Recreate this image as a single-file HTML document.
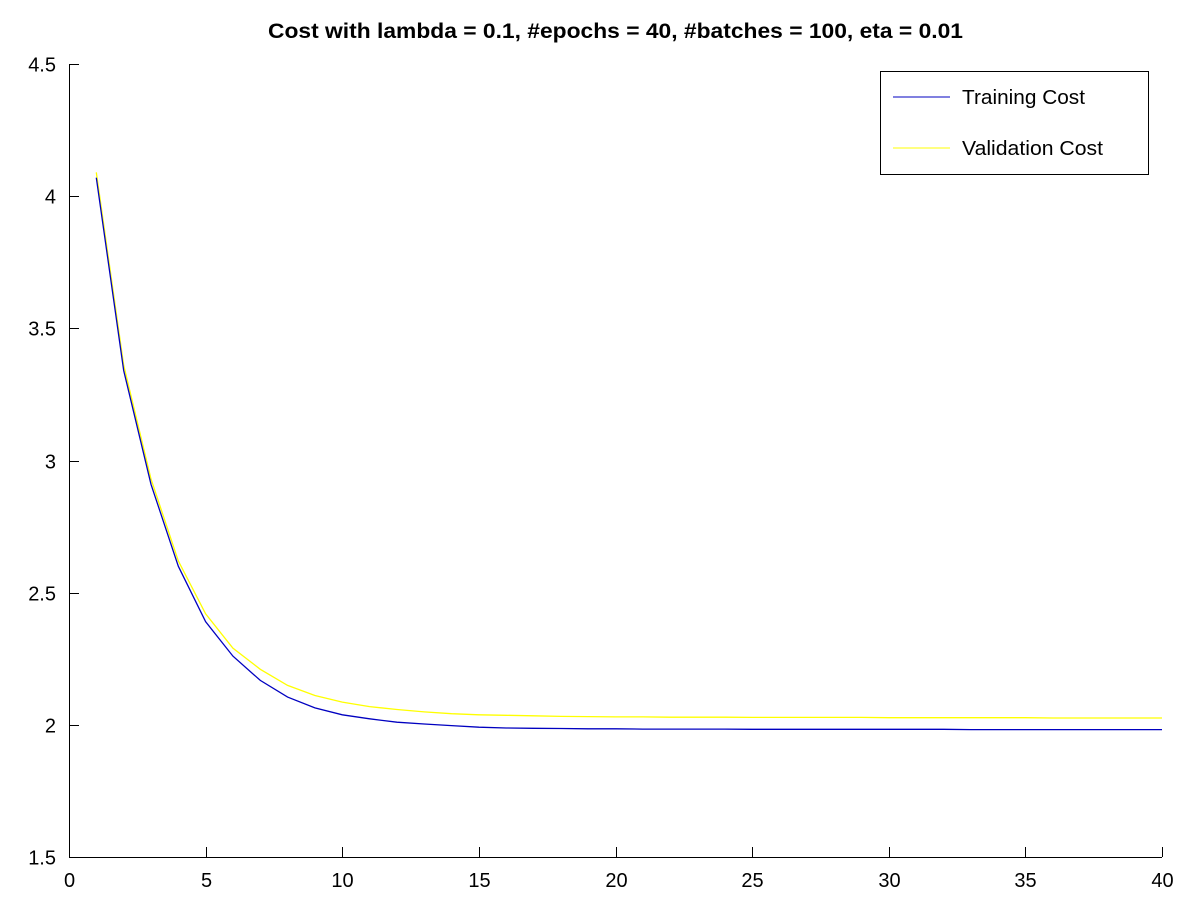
<!DOCTYPE html>
<html><head><meta charset="utf-8"><style>
body{margin:0;background:#fff}
svg text{font-family:"Liberation Sans",sans-serif}
</style></head><body>
<svg id="chart" width="1200" height="900" xmlns="http://www.w3.org/2000/svg">
<rect width="1200" height="900" fill="#fff"/>
<text x="268" y="38" font-size="21.5" font-weight="bold" textLength="695" lengthAdjust="spacingAndGlyphs">Cost with lambda = 0.1, #epochs = 40, #batches = 100, eta = 0.01</text>
<g id="axes"></g>
<g id="series"></g>
<g>
<rect x="880.5" y="71.5" width="268" height="103" fill="#fff" stroke="#000"/>
<line x1="893" y1="97" x2="950" y2="97" stroke="#0000c0"/>
<text x="962" y="104" font-size="20.5" textLength="123" lengthAdjust="spacingAndGlyphs">Training Cost</text>
<line x1="893" y1="148" x2="950" y2="148" stroke="#ffff00"/>
<text x="962" y="155" font-size="20.5" textLength="141" lengthAdjust="spacingAndGlyphs">Validation Cost</text>
</g>
</svg>
<script>
const xTicks=[0,5,10,15,20,25,30,35,40];
const yTicks=[1.5,2,2.5,3,3.5,4,4.5];
const yTickLabels=["1.5","2","2.5","3","3.5","4","4.5"];
const trainingCost=[4.07,3.34,2.91,2.60,2.39,2.26,2.168,2.105,2.064,2.038,2.023,2.010,2.003,1.997,1.991,1.988,1.987,1.986,1.985,1.985,1.984,1.984,1.984,1.984,1.983,1.983,1.983,1.983,1.983,1.983,1.983,1.983,1.982,1.982,1.982,1.982,1.982,1.982,1.982,1.982];
const validationCost=[4.09,3.36,2.93,2.62,2.42,2.29,2.21,2.149,2.111,2.086,2.069,2.058,2.049,2.042,2.038,2.036,2.034,2.032,2.031,2.030,2.030,2.029,2.029,2.029,2.028,2.028,2.028,2.028,2.028,2.027,2.027,2.027,2.027,2.027,2.027,2.026,2.026,2.026,2.026,2.026];
const NS="http://www.w3.org/2000/svg";
const X0=69,X1=1162,Y0=857,Y1=64;
const xs=v=>X0+(v-0)/(40-0)*(X1-X0);
const ys=v=>Y0-(v-1.5)/(4.5-1.5)*(Y0-Y1);
const axes=document.getElementById('axes');
function mk(t,a,p){const e=document.createElementNS(NS,t);for(const k in a)e.setAttribute(k,a[k]);p.appendChild(e);return e;}
const xl=mk('line',{x1:X0,y1:Y0+0.5,x2:X1,y2:Y0+0.5,stroke:'#000'},axes);


const yl=mk('line',{x1:X0+0.5,y1:Y1,x2:X0+0.5,y2:Y0,stroke:'#000'},axes);


xTicks.forEach(v=>{const x=Math.round(xs(v))+0.5;
mk('line',{x1:x,y1:Y0,x2:x,y2:Y0-10,stroke:'#000'},axes);
const t=mk('text',{x:x,y:Y0+30,'text-anchor':'middle','font-size':'20'},axes);t.textContent=v;

});
yTicks.forEach((v,i)=>{const y=Math.round(ys(v))+0.5;
mk('line',{x1:X0,y1:y,x2:X0+10,y2:y,stroke:'#000'},axes);
const t=mk('text',{x:X0-13,y:y+7,'text-anchor':'end','font-size':'20'},axes);t.textContent=yTickLabels[i];

});
const series=document.getElementById('series');
function line(arr,color,name){const d=arr.map((v,i)=>(i?'L':'M')+xs(i+1).toFixed(1)+','+ys(v).toFixed(1)).join('');
const p=mk('path',{d:d,fill:'none',stroke:color,'stroke-width':'1.3'},series);

}
line(validationCost,'#ffff00','validation-cost-line');
line(trainingCost,'#0000c0','training-cost-line');
</script>
</body></html>
